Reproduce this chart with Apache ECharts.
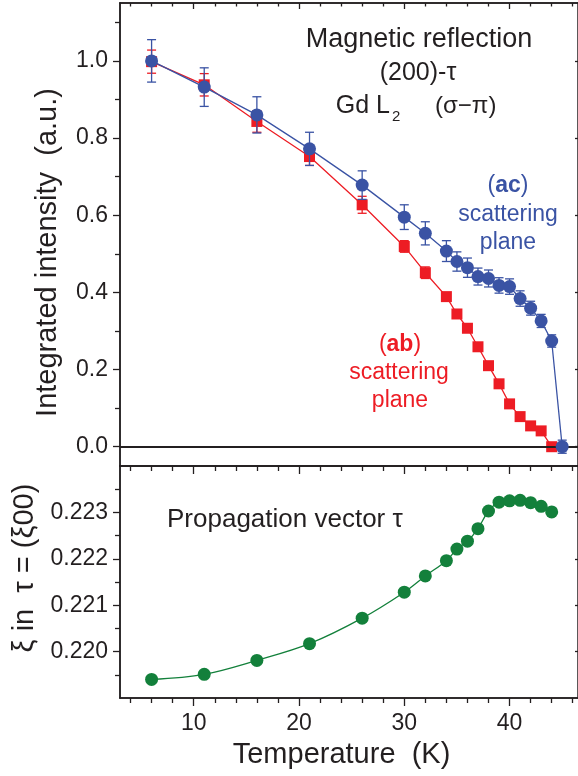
<!DOCTYPE html>
<html>
<head>
<meta charset="utf-8">
<script src="https://cdn.jsdelivr.net/npm/echarts@6/dist/echarts.min.js"></script>
<style>
  html, body { margin: 0; padding: 0; background: #fff; }
  #chart { width: 578px; height: 776px; }
</style>
</head>
<body>
<div id="chart"></div>
<script>
// temperatures (K)
const temps = [6, 11, 16, 21, 26, 30, 32, 34, 35, 36, 37, 38, 39, 40, 41, 42, 43, 44, 45];
// (ac) scattering plane, blue circles
const acIntensity = [1.0, 0.932, 0.860, 0.772, 0.678, 0.595, 0.553, 0.507, 0.480, 0.464, 0.441, 0.436, 0.418, 0.415, 0.384, 0.359, 0.326, 0.274, 0.0];
const acError = [0.055, 0.05, 0.047, 0.043, 0.037, 0.032, 0.03, 0.027, 0.025, 0.025, 0.022, 0.022, 0.02, 0.02, 0.02, 0.018, 0.017, 0.016, 0.017];
// (ab) scattering plane, red squares (no point at 45 K)
const abTemps = [6, 11, 16, 21, 26, 30, 32, 34, 35, 36, 37, 38, 39, 40, 41, 42, 43, 44];
const abIntensity = [0.998, 0.938, 0.843, 0.752, 0.627, 0.519, 0.451, 0.389, 0.344, 0.307, 0.259, 0.210, 0.163, 0.111, 0.078, 0.054, 0.041, 0.0];
const abError = [0.03, 0.029, 0.028, 0.023, 0.022, 0.015, 0.015, 0.008, 0.006, 0.006, 0.006, 0.006, 0.006, 0.006, 0.006, 0.006, 0.006, 0.006];
// propagation vector xi, green circles
const tauTemps = [6, 11, 16, 21, 26, 30, 32, 34, 35, 36, 37, 38, 39, 40, 41, 42, 43, 44];
const xiValues = [0.21940, 0.21951, 0.21981, 0.22017, 0.22072, 0.22128, 0.22163, 0.22196, 0.22221, 0.22238, 0.22265, 0.22303, 0.22322, 0.22325, 0.22326, 0.22321, 0.22313, 0.22301];

// ticks
const xLabelTicks = [10, 20, 30, 40];
const xMinorTicks = [4, 6, 8, 12, 14, 16, 18, 22, 24, 26, 28, 32, 34, 36, 38, 42, 44, 46];
const intensityLabels = [0.0, 0.2, 0.4, 0.6, 0.8, 1.0];
const intensityMinor = [0.1, 0.3, 0.5, 0.7, 0.9, 1.1];
const xiLabels = [0.220, 0.221, 0.222, 0.223];
const xiMinor = [0.2195, 0.2205, 0.2215, 0.2225, 0.2235];

const ink = '#231f20';
const red = '#ed1c24';
const blue = '#3a53a4';
const green = '#13803b';
const font = '"Liberation Sans", Arial, sans-serif';

const X_MIN = 3, X_MAX = 46.5;

function xAx(grid, pos, ticks, len, inside, extra) {
    return Object.assign({
        type: 'value', gridIndex: grid, position: pos, min: X_MIN, max: X_MAX,
        splitLine: {show: false},
        axisLine: {show: true, onZero: false, lineStyle: {color: ink, width: 1.5}},
        axisTick: ticks ? {show: true, inside: inside, length: len, customValues: ticks,
            lineStyle: {color: ink, width: 1.3}} : {show: false},
        axisLabel: {show: false}
    }, extra || {});
}

function yAx(grid, pos, min, max, ticks, len, inside, extra) {
    return Object.assign({
        type: 'value', gridIndex: grid, position: pos, min: min, max: max,
        splitLine: {show: false},
        axisLine: {show: true, onZero: false, lineStyle: {color: ink, width: 1.5}},
        axisTick: {show: true, inside: inside, length: len, customValues: ticks,
            lineStyle: {color: ink, width: 1.3}},
        axisLabel: {show: false}
    }, extra || {});
}

function errorBars(xs, ys, errs, color, z) {
    return {
        type: 'custom', xAxisIndex: 0, yAxisIndex: 0, z: z, silent: true,
        data: xs.map((t, i) => [t, ys[i], errs[i]]),
        renderItem: function (params, api) {
            const x = api.value(0), y = api.value(1), e = api.value(2);
            const hi = api.coord([x, y + e]);
            const lo = api.coord([x, y - e]);
            const cap = 4.5;
            const st = {stroke: color, lineWidth: 1.3};
            return {
                type: 'group',
                children: [
                    {type: 'line', shape: {x1: hi[0], y1: hi[1], x2: lo[0], y2: lo[1]}, style: st},
                    {type: 'line', shape: {x1: hi[0] - cap, y1: hi[1], x2: hi[0] + cap, y2: hi[1]}, style: st},
                    {type: 'line', shape: {x1: lo[0] - cap, y1: lo[1], x2: lo[0] + cap, y2: lo[1]}, style: st}
                ]
            };
        }
    };
}

const chart = echarts.init(document.getElementById('chart'));

const option = {
    animation: false,
    backgroundColor: '#fff',
    textStyle: {fontFamily: font, color: ink},
    grid: [
        {left: 120, top: 3, width: 459, height: 463},
        {left: 120, top: 466, width: 459, height: 232}
    ],
    xAxis: [
        xAx(0, 'bottom', null),
        xAx(0, 'top', xLabelTicks, 6, true),
        xAx(0, 'top', xMinorTicks, 3.5, true),
        xAx(1, 'bottom', xLabelTicks, 8, false, {
            axisLabel: {show: true, customValues: xLabelTicks, margin: 14, fontSize: 23, color: ink, fontFamily: font},
            name: 'Temperature  (K)', nameLocation: 'middle', nameGap: 42,
            nameTextStyle: {fontSize: 29, color: ink, fontFamily: font, padding: [0, 15, 0, 0]}
        }),
        xAx(1, 'bottom', xMinorTicks, 5, false),
        xAx(1, 'top', xLabelTicks, 8, true),
        xAx(1, 'top', xMinorTicks, 5, true)
    ],
    yAxis: [
        yAx(0, 'left', -0.05, 1.15, intensityLabels, 7, false, {
            axisLabel: {show: true, customValues: intensityLabels, margin: 12, fontSize: 23, color: ink,
                fontFamily: font, formatter: v => v.toFixed(1)},
            name: 'Integrated intensity  (a.u.)', nameLocation: 'middle', nameRotate: 90, nameGap: 58,
            nameTextStyle: {fontSize: 29, color: ink, fontFamily: font, padding: [0, 36, 0, 0]}
        }),
        yAx(0, 'left', -0.05, 1.15, intensityMinor, 5, false),
        yAx(0, 'right', -0.05, 1.15, intensityLabels, 3, true),
        yAx(1, 'left', 0.219, 0.224, xiLabels, 7, false, {
            axisLabel: {show: true, customValues: xiLabels, margin: 12, fontSize: 23, color: ink,
                fontFamily: font, formatter: v => v.toFixed(3)},
            name: 'ξ in  τ = (ξ00)', nameLocation: 'middle', nameRotate: 90, nameGap: 80,
            nameTextStyle: {fontSize: 29, color: ink, fontFamily: font, padding: [0, 0, 0, 28]}
        }),
        yAx(1, 'left', 0.219, 0.224, xiMinor, 5, false),
        yAx(1, 'right', 0.219, 0.224, xiLabels, 3, true)
    ],
    series: [
        errorBars(abTemps, abIntensity, abError, red, 2),
        {
            type: 'line', name: '(ab)', xAxisIndex: 0, yAxisIndex: 0, z: 3,
            data: abTemps.map((t, i) => [t, abIntensity[i]]),
            symbol: 'rect', symbolSize: 11,
            lineStyle: {color: red, width: 1.3},
            itemStyle: {color: red},
            markLine: {
                silent: true, symbol: 'none', label: {show: false},
                lineStyle: {color: ink, width: 2, type: 'solid'},
                data: [{yAxis: 0}]
            }
        },
        errorBars(temps, acIntensity, acError, blue, 4),
        {
            type: 'line', name: '(ac)', xAxisIndex: 0, yAxisIndex: 0, z: 5,
            data: temps.map((t, i) => [t, acIntensity[i]]),
            symbol: 'circle', symbolSize: 13,
            lineStyle: {color: blue, width: 1.3},
            itemStyle: {color: blue}
        },
        {
            type: 'line', name: 'xi', xAxisIndex: 3, yAxisIndex: 3, z: 5,
            data: tauTemps.map((t, i) => [t, xiValues[i]]),
            smooth: 0.35,
            symbol: 'circle', symbolSize: 13,
            lineStyle: {color: green, width: 1.3},
            itemStyle: {color: green}
        }
    ],
    graphic: [
        {type: 'text', x: 419, y: 40, style: {text: 'Magnetic reflection', fontSize: 27, fontFamily: font, fill: ink, align: 'center', verticalAlign: 'middle'}},
        {type: 'text', x: 418, y: 73, style: {text: '(200)-τ', fontSize: 25, fontFamily: font, fill: ink, align: 'center', verticalAlign: 'middle'}},
        {type: 'text', x: 390, y: 106, style: {text: 'Gd L', fontSize: 25, fontFamily: font, fill: ink, align: 'right', verticalAlign: 'middle'}},
        {type: 'text', x: 392, y: 117, style: {text: '2', fontSize: 15, fontFamily: font, fill: ink, align: 'left', verticalAlign: 'middle'}},
        {type: 'text', x: 435, y: 106, style: {text: '(σ−π)', fontSize: 24, fontFamily: font, fill: ink, align: 'left', verticalAlign: 'middle'}},
        {type: 'text', x: 508, y: 186, style: {text: '{n|(}{b|ac}{n|)}', fill: blue, align: 'center', verticalAlign: 'middle',
            rich: {n: {fontSize: 23, fontFamily: font, fill: blue}, b: {fontSize: 23, fontWeight: 'bold', fontFamily: font, fill: blue}}}},
        {type: 'text', x: 508, y: 215, style: {text: 'scattering', fontSize: 23, fontFamily: font, fill: blue, align: 'center', verticalAlign: 'middle'}},
        {type: 'text', x: 508, y: 243, style: {text: 'plane', fontSize: 23, fontFamily: font, fill: blue, align: 'center', verticalAlign: 'middle'}},
        {type: 'text', x: 400, y: 345, style: {text: '{n|(}{b|ab}{n|)}', fill: red, align: 'center', verticalAlign: 'middle',
            rich: {n: {fontSize: 23, fontFamily: font, fill: red}, b: {fontSize: 23, fontWeight: 'bold', fontFamily: font, fill: red}}}},
        {type: 'text', x: 399, y: 373, style: {text: 'scattering', fontSize: 23, fontFamily: font, fill: red, align: 'center', verticalAlign: 'middle'}},
        {type: 'text', x: 400, y: 401, style: {text: 'plane', fontSize: 23, fontFamily: font, fill: red, align: 'center', verticalAlign: 'middle'}},
        {type: 'text', x: 167, y: 520, style: {text: 'Propagation vector τ', fontSize: 26, fontFamily: font, fill: ink, align: 'left', verticalAlign: 'middle'}}
    ]
};

chart.setOption(option);
</script>
</body>
</html>
